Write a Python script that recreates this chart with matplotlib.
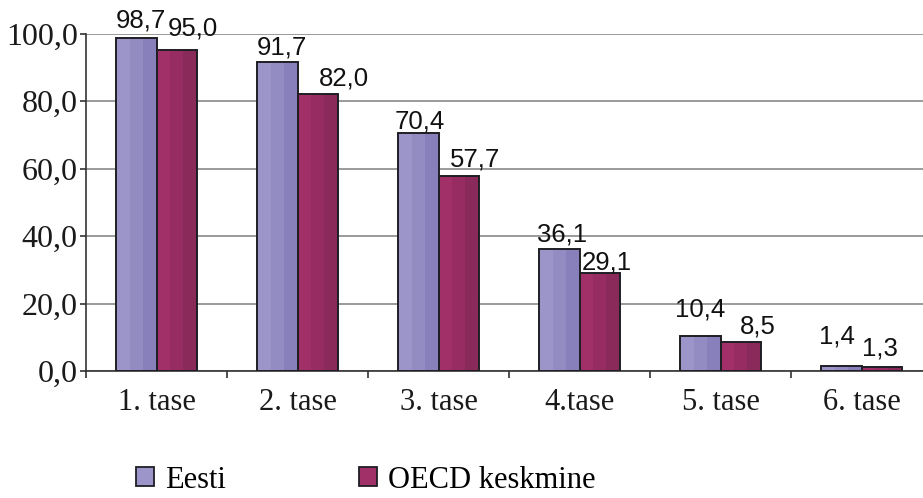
import matplotlib
matplotlib.use("Agg")
import matplotlib.pyplot as plt
import numpy as np
from matplotlib.patches import Patch

categories = ["1. tase", "2. tase", "3. tase", "4.tase", "5. tase", "6. tase"]
eesti = [98.7, 91.7, 70.4, 36.1, 10.4, 1.4]
oecd = [95.0, 82.0, 57.7, 29.1, 8.5, 1.3]
labels_eesti = ["98,7", "91,7", "70,4", "36,1", "10,4", "1,4"]
labels_oecd = ["95,0", "82,0", "57,7", "29,1", "8,5", "1,3"]
yticks = [0, 20, 40, 60, 80, 100]
ytick_labels = ["0,0", "20,0", "40,0", "60,0", "80,0", "100,0"]

# label placement offsets (pixels) as seen in the reference
dx_eesti = [4, 4, 1, 3, 0, -5]
dy_eesti = [10, 7, 5, 8, 19, 23]
dx_oecd = [16, 26, 16, 7, 17, -2]
dy_oecd = [15, 9, 10, 3, 9, 11]

c_eesti = ["#9b95c9", "#928cc3", "#8880ba"]
c_oecd = ["#a23068", "#962c61", "#8a2a5b"]
edge = "#1e1e24"

fig = plt.figure(figsize=(9.23, 4.98), dpi=100)
ax = fig.add_axes([0.0932, 0.255, 0.9166, 0.6777])

x = np.arange(len(categories))
w = 0.284
for vals, cols, off in [(eesti, c_eesti, -w / 2), (oecd, c_oecd, w / 2)]:
    sw = w / 3
    for k, col in enumerate(cols):
        ax.bar(x + off - w / 2 + sw * k + sw / 2, vals, sw, color=col, linewidth=0, zorder=3)
    ax.bar(x + off, vals, w, facecolor="none", edgecolor=edge, linewidth=1.4, zorder=4)

for i in range(len(categories)):
    ax.annotate(labels_eesti[i], (x[i] - w / 2, eesti[i]), xytext=(dx_eesti[i], dy_eesti[i]),
                textcoords="offset pixels", ha="center", va="baseline",
                fontsize=18.5, family="Liberation Sans", color="#111111",
                annotation_clip=False, zorder=5)
    ax.annotate(labels_oecd[i], (x[i] + w / 2, oecd[i]), xytext=(dx_oecd[i], dy_oecd[i]),
                textcoords="offset pixels", ha="center", va="baseline",
                fontsize=18.5, family="Liberation Sans", color="#111111",
                annotation_clip=False, zorder=5)

ax.set_xlim(-0.5, len(categories) - 0.5)
ax.set_ylim(0, 100)
ax.set_yticks(yticks)
ax.set_yticklabels(ytick_labels, family="Liberation Serif", fontsize=23, color="#1a1a1a")
ax.yaxis.grid(True, color="#929292", linewidth=1.3, zorder=0)
ax.set_axisbelow(True)

ax.set_xticks(x)
ax.set_xticklabels(categories, family="Liberation Serif", fontsize=22, color="#1a1a1a")
ax.set_xticks(np.arange(-0.5, len(categories) - 0.5 + 0.01, 1), minor=True)
ax.tick_params(axis="x", which="major", length=0, pad=12)
ax.tick_params(axis="x", which="minor", length=5, width=1.2, color="#333333")
ax.tick_params(axis="y", length=4, width=1.2, color="#333333", pad=2)

for s in ["top", "right"]:
    ax.spines[s].set_visible(False)
for s in ["left", "bottom"]:
    ax.spines[s].set_color("#333333")
    ax.spines[s].set_linewidth(1.2)

leg_kw = dict(loc="center left", frameon=False, borderpad=0, borderaxespad=0,
              prop={"family": "Liberation Serif", "size": 22},
              handlelength=0.58, handleheight=0.58, handletextpad=0.36)
h1 = Patch(facecolor=c_eesti[0], edgecolor=edge, linewidth=1.3, label="Eesti")
h2 = Patch(facecolor=c_oecd[0], edgecolor=edge, linewidth=1.3, label="OECD keskmine")
fig.legend(handles=[h1], bbox_to_anchor=(136 / 923, 0.036), **leg_kw)
fig.legend(handles=[h2], bbox_to_anchor=(359 / 923, 0.036), **leg_kw)

fig.savefig("out.png", dpi=100)
